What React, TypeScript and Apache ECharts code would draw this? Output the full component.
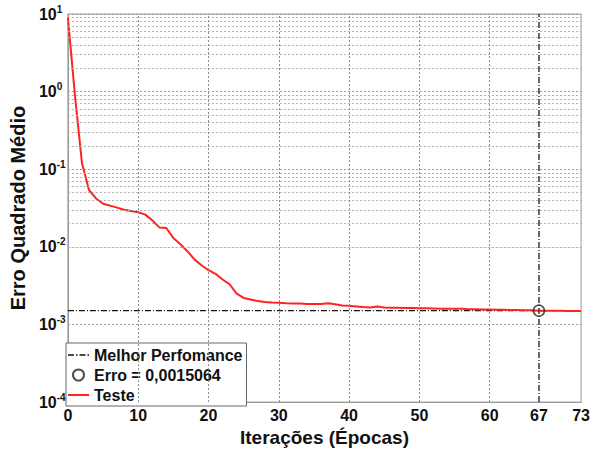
import React, { useEffect, useRef } from "react";
import * as echarts from "echarts";

const epochs: number[] = Array.from({ length: 74 }, (_, i) => i);
const testError: number[] = [
  8.9, 0.9, 0.12, 0.054, 0.042, 0.036, 0.034, 0.032, 0.030, 0.029,
  0.028, 0.026, 0.022, 0.0178, 0.0175, 0.013, 0.0108, 0.0088, 0.0069, 0.0058,
  0.0050, 0.0045, 0.0038, 0.0033, 0.0025, 0.0022, 0.0021, 0.0020, 0.00195, 0.00192,
  0.00190, 0.00188, 0.00187, 0.00186, 0.00184, 0.00183, 0.00183, 0.00188, 0.00182, 0.00176,
  0.00174, 0.00171, 0.00168, 0.00166, 0.00170, 0.00165, 0.00164, 0.00164, 0.00163, 0.00163,
  0.00162, 0.00162, 0.00161, 0.00160, 0.00160, 0.00160, 0.00159, 0.00157, 0.00157, 0.00156,
  0.00156, 0.00155, 0.00155, 0.00154, 0.00154, 0.00153, 0.00152, 0.0015064, 0.00150, 0.00150,
  0.00150, 0.00149, 0.00149, 0.00149,
];
const bestEpoch = 67;
const bestError = 0.0015064;
const xTickLabels: number[] = [0, 10, 20, 30, 40, 50, 60, 67, 73];
const xGridLines: number[] = [10, 20, 30, 40, 50, 60];
const yDecades: number[] = [-4, -3, -2, -1, 0];
const yMinorMantissas: number[] = [2, 3, 4, 5, 6, 7, 8, 9];

const FONT = "Liberation Sans, Arial, sans-serif";
const DASHDOT_ICON =
  "path://M0,0H6V1.4H0Z M8,0H9.5V1.4H8Z M11.5,0H17.5V1.4H11.5Z M19.5,0H21V1.4H19.5Z";
const LINE_ICON = "path://M0,0H21V2H0Z";

export default function App() {
  const ref = useRef<HTMLDivElement>(null);
  useEffect(() => {
    if (!ref.current) return;
    const chart = echarts.init(ref.current, undefined, { renderer: "svg" });
    const bestName = "Melhor Perfomance";
    const errName = "Erro = " + String(bestError).replace(".", ",");

    const gridLines: any[] = [];
    yDecades.forEach((e) => {
      yMinorMantissas.forEach((m) => {
        gridLines.push({
          yAxis: m * Math.pow(10, e),
          lineStyle: { color: "#b0b0b0", width: 1, type: [2, 2] },
        });
      });
    });
    xGridLines.forEach((x) => {
      gridLines.push({
        xAxis: x,
        lineStyle: { color: "#888", width: 1, type: [2, 2] },
      });
    });

    chart.setOption({
      animation: false,
      backgroundColor: "#fff",
      grid: {
        left: 66,
        right: 10,
        top: 14,
        bottom: 45,
        show: true,
        borderColor: "#999",
        borderWidth: 1,
        backgroundColor: "transparent",
      },
      legend: {
        data: [
          { name: bestName, icon: DASHDOT_ICON },
          { name: errName },
          { name: "Teste", icon: LINE_ICON },
        ],
        orient: "vertical",
        left: 66,
        top: 343,
        padding: [4, 4, 3, 2],
        itemGap: 4,
        itemWidth: 21,
        itemHeight: 11,
        backgroundColor: "#fff",
        borderColor: "#666",
        borderWidth: 1,
        borderRadius: 0,
        selectedMode: false,
        textStyle: { fontSize: 16, fontWeight: "bold", color: "#111", fontFamily: FONT },
      },
      xAxis: {
        type: "value",
        min: 0,
        max: 73,
        name: "Iterações (Épocas)",
        nameLocation: "middle",
        nameGap: 21,
        nameTextStyle: { fontSize: 19, fontWeight: "bold", color: "#111", fontFamily: FONT },
        axisLine: { show: true, lineStyle: { color: "#999" } },
        axisTick: { show: false },
        splitLine: { show: false },
        axisLabel: {
          customValues: xTickLabels,
          margin: 5,
          fontSize: 16,
          fontWeight: "bold",
          color: "#111",
          fontFamily: FONT,
        },
      },
      yAxis: {
        type: "log",
        logBase: 10,
        min: 1e-4,
        max: 10,
        splitNumber: 5,
        name: "Erro Quadrado Médio",
        nameLocation: "middle",
        nameGap: 34,
        nameTextStyle: { fontSize: 20, fontWeight: "bold", color: "#111", fontFamily: FONT },
        axisLine: { show: true, lineStyle: { color: "#999" } },
        axisTick: { show: false },
        splitLine: { show: true, lineStyle: { color: "#999", type: [2, 2] } },
        axisLabel: {
          margin: 29,
          align: "left",
          formatter: (v: number) => `{b|10}{s|${Math.round(Math.log10(v))}}`,
          rich: {
            b: { fontSize: 16, fontWeight: "bold", color: "#111", fontFamily: FONT, lineHeight: 20 },
            s: { fontSize: 10, fontWeight: "bold", color: "#111", fontFamily: FONT, verticalAlign: "top", lineHeight: 10 },
          },
        },
      },
      series: [
        {
          name: "grid",
          type: "line",
          data: [],
          silent: true,
          z: 1,
          markLine: {
            silent: true,
            symbol: ["none", "none"],
            label: { show: false },
            animation: false,
            data: gridLines,
          },
        },
        {
          name: bestName,
          type: "line",
          data: [
            [0, bestError],
            [73, bestError],
          ],
          symbol: "none",
          z: 3,
          lineStyle: { color: "#111", width: 1.2, type: [6, 2, 1, 2] },
          itemStyle: { color: "#111" },
          markLine: {
            silent: true,
            symbol: ["none", "none"],
            label: { show: false },
            animation: false,
            data: [{ xAxis: bestEpoch }],
            lineStyle: { color: "#444", width: 1.6, type: [6, 2, 1, 2] },
          },
        },
        {
          name: "Teste",
          type: "line",
          data: epochs.map((e, i) => [e, testError[i]]),
          symbol: "none",
          z: 4,
          lineStyle: { color: "#ff2222", width: 2 },
          itemStyle: { color: "#ff2222" },
        },
        {
          name: errName,
          type: "scatter",
          data: [[bestEpoch, bestError]],
          symbol: "circle",
          symbolSize: 11,
          z: 5,
          itemStyle: { color: "rgba(0,0,0,0)", borderColor: "#222", borderWidth: 1.5 },
        },
      ],
    });
    return () => chart.dispose();
  }, []);
  return (
    <div
      ref={ref}
      style={{ position: "fixed", left: 0, top: 0, width: 593, height: 452, background: "#fff" }}
    />
  );
}
